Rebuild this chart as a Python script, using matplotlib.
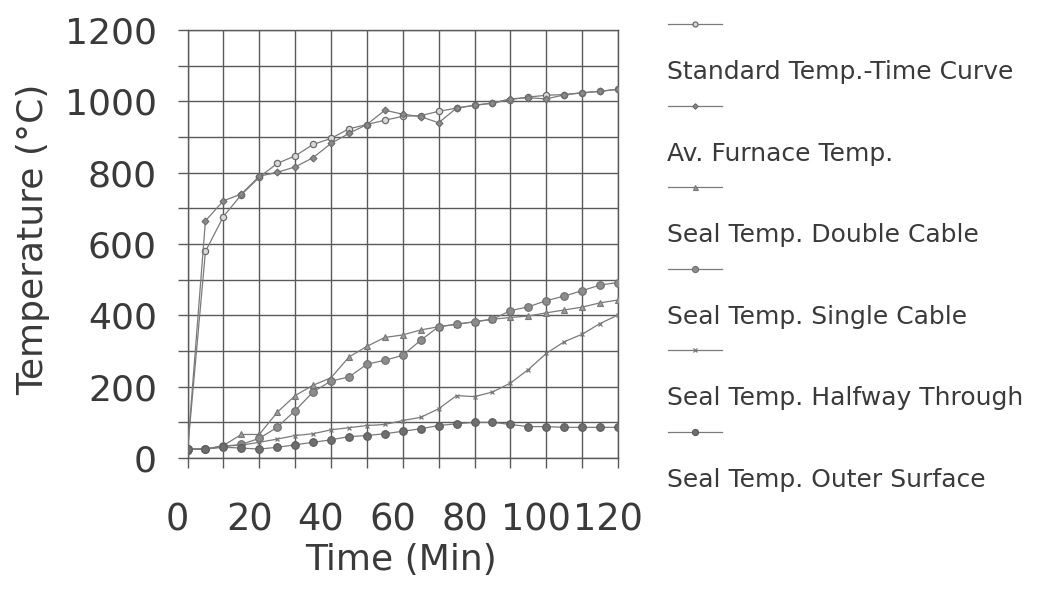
import matplotlib
matplotlib.use("Agg")
import matplotlib.pyplot as plt
from matplotlib.lines import Line2D
from matplotlib.transforms import ScaledTranslation

# ---------------- data ----------------
time_min = [0, 5, 10, 15, 20, 25, 30, 35, 40, 45, 50, 55, 60,
            65, 70, 75, 80, 85, 90, 95, 100, 105, 110, 115, 120]

standard_curve = [20, 579, 677, 738, 787, 826, 847, 879, 896, 923, 935, 947, 958,
                  960, 972, 981, 989, 995, 1005, 1012, 1017, 1019, 1024, 1028, 1034]
furnace_temp = [20, 665, 721, 740, 790, 801, 816, 842, 882, 910, 935, 975, 964,
                957, 940, 981, 989, 995, 1007, 1010, 1007, 1018, 1024, 1028, 1034]
double_cable = [25, 25, 35, 66, 66, 128, 175, 204, 225, 283, 313, 338, 345,
                359, 368, 375, 382, 389, 394, 398, 407, 415, 423, 435, 443]
single_cable = [25, 25, 33, 38, 55, 86, 133, 185, 216, 227, 263, 274, 288,
                330, 368, 375, 382, 389, 413, 424, 441, 454, 469, 485, 492]
halfway_through = [25, 25, 33, 36, 44, 53, 63, 68, 79, 85, 91, 94, 105,
                   114, 138, 175, 172, 185, 210, 248, 293, 326, 347, 377, 401]
outer_surface = [25, 25, 30, 28, 25, 30, 37, 44, 51, 60, 63, 68, 75,
                 82, 91, 96, 100, 100, 94, 88, 88, 86, 86, 86, 86]

series_labels = ["Standard Temp.-Time Curve", "Av. Furnace Temp.",
                 "Seal Temp. Double Cable", "Seal Temp. Single Cable",
                 "Seal Temp. Halfway Through", "Seal Temp. Outer Surface"]

x_major_ticks = [0, 20, 40, 60, 80, 100, 120]
x_minor_ticks = [10, 30, 50, 70, 90, 110]
y_major_ticks = [0, 200, 400, 600, 800, 1000, 1200]
y_minor_ticks = [100, 300, 500, 700, 900, 1100]

x_label = "Time (Min)"
y_label = "Temperature (°C)"

# ---------------- styling ----------------
plt.rcParams["font.family"] = ["DejaVu Sans"]
TEXT = "#3a3a3a"
GRID = "#5a5a5a"
LINE = "#7a7a7a"

styles = [
    dict(marker="o", ms=4.5, mfc="#d8d8d8", mec="#6a6a6a", mew=0.9),
    dict(marker="D", ms=3.5, mfc="#8a8a8a", mec="#6a6a6a", mew=0.8),
    dict(marker="^", ms=4.5, mfc="#9a9a9a", mec="#777777", mew=0.8),
    dict(marker="o", ms=5.5, mfc="#8c8c8c", mec="#6e6e6e", mew=0.8),
    dict(marker="x", ms=3.5, mfc="#888888", mec="#777777", mew=0.9),
    dict(marker="o", ms=5.5, mfc="#6e6e6e", mec="#5a5a5a", mew=0.8),
]
series = [standard_curve, furnace_temp, double_cable, single_cable,
          halfway_through, outer_surface]

W, H = 1037, 589
fig = plt.figure(figsize=(W / 100, H / 100), dpi=100, facecolor="white")
ax_left, ax_right, ax_top, ax_bottom = 187.5, 618, 30, 458
ax = fig.add_axes([ax_left / W, 1 - ax_bottom / H,
                   (ax_right - ax_left) / W, (ax_bottom - ax_top) / H])
ax.set_facecolor("white")

for vals, st in zip(series, styles):
    ax.plot(time_min, vals, color=LINE, lw=0.9, zorder=3, **st)

ax.set_xlim(0, 120)
ax.set_ylim(0, 1200)
ax.set_xticks(x_major_ticks)
ax.set_xticks(x_minor_ticks, minor=True)
ax.set_yticks(y_major_ticks)
ax.set_yticks(y_minor_ticks, minor=True)
ax.grid(True, which="both", color=GRID, lw=1.0)
ax.set_axisbelow(True)
for sp in ax.spines.values():
    sp.set_color(GRID)
    sp.set_linewidth(1.0)

ax.tick_params(axis="both", which="both", direction="out", length=7,
               width=1.0, color=GRID)
ax.tick_params(axis="x", which="major", labelsize=26.5, pad=24,
               labelcolor=TEXT)
ax.tick_params(axis="y", which="major", labelsize=26, pad=15,
               labelcolor=TEXT)

offset = ScaledTranslation(-10 / 100, 0, fig.dpi_scale_trans)
for lab in ax.xaxis.get_majorticklabels():
    lab.set_transform(lab.get_transform() + offset)

ax.set_xlabel(x_label, fontsize=26, color=TEXT)
ax.set_ylabel(y_label, fontsize=26, color=TEXT)
ax.xaxis.set_label_coords(0.497, -0.199)
ax.xaxis.label.set_va("top")
ax.yaxis.set_label_coords(-0.32, 0.51)

# ---------------- legend (key above label) ----------------
key_x0, key_x1 = 668, 722
first_key_y, step, text_dy = 24, 81.6, 48
for i, (lab, st) in enumerate(zip(series_labels, styles)):
    yk = first_key_y + step * i
    fig.add_artist(Line2D([key_x0 / W, key_x1 / W], [1 - yk / H, 1 - yk / H],
                          transform=fig.transFigure, color=LINE, lw=0.9))
    mst = dict(st)
    mst["ms"] = mst["ms"] * 0.8
    fig.add_artist(Line2D([(key_x0 + key_x1) / 2 / W], [1 - yk / H],
                          transform=fig.transFigure, lw=0, **mst))
    fig.text(667 / W, 1 - (yk + text_dy) / H, lab, fontsize=18,
             color=TEXT, ha="left", va="center")

fig.savefig("out.png", dpi=100, facecolor="white")
